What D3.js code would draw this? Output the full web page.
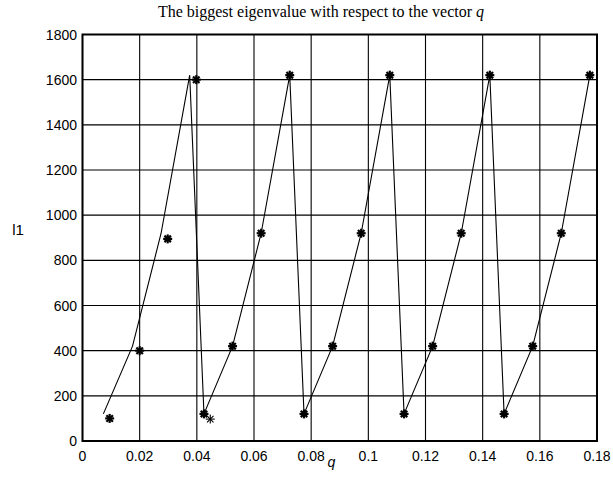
<!DOCTYPE html>
<html>
<head>
<meta charset="utf-8">
<script src="https://cdn.jsdelivr.net/npm/d3@7"></script>
<style>
  html, body { margin: 0; padding: 0; background: #fff; }
  svg { display: block; }
</style>
</head>
<body>
<svg id="chart" width="613" height="481"></svg>
<script>
// ---- data ----
const titleText = "The biggest eigenvalue with respect to the vector ";
const xLabel = "q";
const yLabel = "l1";
const xTicks = [0, 0.02, 0.04, 0.06, 0.08, 0.1, 0.12, 0.14, 0.16, 0.18];
const xTickLabels = ["0", "0.02", "0.04", "0.06", "0.08", "0.1", "0.12", "0.14", "0.16", "0.18"];
const yTicks = [0, 200, 400, 600, 800, 1000, 1200, 1400, 1600, 1800];

// line series
const lineQ = [0.0073, 0.0175, 0.0275, 0.0375, 0.0425, 0.0525, 0.0625, 0.0725,
               0.0775, 0.0875, 0.0975, 0.1075, 0.1125, 0.1225, 0.1325, 0.1425,
               0.1475, 0.1575, 0.1675, 0.1775];
const lineL = [120, 420, 920, 1620, 120, 420, 920, 1620,
               120, 420, 920, 1620, 120, 420, 920, 1620,
               120, 420, 920, 1620];

// bold star markers
const starQ = [0.0095, 0.02, 0.0298, 0.0398, 0.0425, 0.0525, 0.0625, 0.0725,
               0.0775, 0.0875, 0.0975, 0.1075, 0.1125, 0.1225, 0.1325, 0.1425,
               0.1475, 0.1575, 0.1675, 0.1775];
const starL = [100, 400, 895, 1600, 120, 420, 920, 1620,
               120, 420, 920, 1620, 120, 420, 920, 1620,
               120, 420, 920, 1620];

// thin star markers
const thinQ = [0.0447];
const thinL = [97];

// ---- layout ----
const svg = d3.select("#chart");
const L = 82.5, R = 597, T = 34.5, B = 441;
const x = d3.scaleLinear().domain([0, 0.18]).range([L, R]);
const y = d3.scaleLinear().domain([0, 1800]).range([B, T]);

// grid
const g = svg.append("g");
g.selectAll(".gx").data(xTicks).enter().append("line")
  .attr("x1", d => x(d)).attr("x2", d => x(d))
  .attr("y1", T).attr("y2", B)
  .attr("stroke", "#000").attr("stroke-width", 1.1);
g.selectAll(".gy").data(yTicks).enter().append("line")
  .attr("x1", L).attr("x2", R)
  .attr("y1", d => y(d)).attr("y2", d => y(d))
  .attr("stroke", "#000").attr("stroke-width", 1.1);

// box
svg.append("rect").attr("x", L).attr("y", T).attr("width", R - L).attr("height", B - T)
  .attr("fill", "none").attr("stroke", "#000").attr("stroke-width", 2);

// tick labels
svg.append("g").selectAll("text").data(xTicks).enter().append("text")
  .attr("x", d => x(d)).attr("y", 461)
  .attr("text-anchor", "middle")
  .attr("font-family", "Liberation Sans, Arial, sans-serif")
  .attr("font-size", 14)
  .text((d, i) => xTickLabels[i]);
svg.append("g").selectAll("text").data(yTicks).enter().append("text")
  .attr("x", 77).attr("y", d => y(d) + 5)
  .attr("text-anchor", "end")
  .attr("font-family", "Liberation Sans, Arial, sans-serif")
  .attr("font-size", 14)
  .text(d => d);

// line
const pts = lineQ.map((q, i) => [q, lineL[i]]);
svg.append("path")
  .attr("d", d3.line().x(d => x(d[0])).y(d => y(d[1]))(pts))
  .attr("fill", "none").attr("stroke", "#000").attr("stroke-width", 1.1);

// star marker
function star(sel, cx, cy, r, sw) {
  const gg = sel.append("g").attr("stroke", "#000").attr("stroke-width", sw);
  gg.append("line").attr("x1", cx - r).attr("x2", cx + r).attr("y1", cy).attr("y2", cy);
  gg.append("line").attr("x1", cx).attr("x2", cx).attr("y1", cy - r).attr("y2", cy + r);
  const k = r * 0.72;
  gg.append("line").attr("x1", cx - k).attr("x2", cx + k).attr("y1", cy - k).attr("y2", cy + k);
  gg.append("line").attr("x1", cx - k).attr("x2", cx + k).attr("y1", cy + k).attr("y2", cy - k);
}
const mk = svg.append("g");
starQ.forEach((q, i) => star(mk, x(q), y(starL[i]), 4.5, 2.2));
thinQ.forEach((q, i) => star(mk, x(q), y(thinL[i]), 4.5, 1.1));

// title
const title = svg.append("text")
  .attr("x", 321).attr("y", 17)
  .attr("text-anchor", "middle")
  .attr("font-family", "Liberation Serif, Times New Roman, serif")
  .attr("font-size", 16);
title.append("tspan").text(titleText);
title.append("tspan").attr("font-style", "italic").text("q");

// axis labels
svg.append("text").attr("x", 331.5).attr("y", 467)
  .attr("text-anchor", "middle")
  .attr("font-family", "Liberation Sans, Arial, sans-serif")
  .attr("font-style", "italic")
  .attr("font-size", 14)
  .text(xLabel);
svg.append("text").attr("x", 18).attr("y", 235)
  .attr("text-anchor", "middle")
  .attr("font-family", "Liberation Sans, Arial, sans-serif")
  .attr("font-size", 15)
  .text(yLabel);
</script>
</body>
</html>
